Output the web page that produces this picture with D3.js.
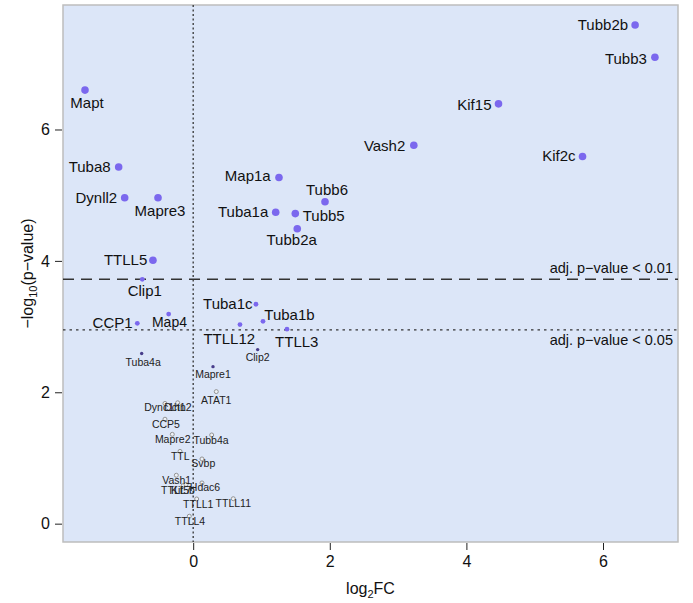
<!DOCTYPE html>
<html>
<head>
<meta charset="utf-8">
<script src="https://cdn.jsdelivr.net/npm/d3@7"></script>
<style>
  html, body { margin: 0; padding: 0; background: #ffffff; }
  svg { display: block; }
  text { font-family: "Liberation Sans", Arial, Helvetica, sans-serif; }
</style>
</head>
<body>
<div id="chart"></div>
<script>
// ---------------- data ----------------
const genes = [
  "Tubb2b","Tubb3","Kif15","Vash2","Kif2c","Mapt","Tuba8","Dynll2","Mapre3","Map1a",
  "Tubb6","Tuba1a","Tubb5","Tubb2a","TTLL5",
  "Clip1","Tuba1c","Map4","CCP1","Tuba1b","TTLL12","TTLL3",
  "Tuba4a","Clip2","Mapre1",
  "ATAT1","Dync1h1","Dctn2","CCP5","Mapre2","Tubb4a","TTL","Svbp","Vash1","Hdac6",
  "TTLL7","Kif5b","TTLL1","TTLL11","TTLL4"
];
const log2FC = [
  6.47, 6.76, 4.47, 3.23, 5.70, -1.584, -1.091, -1.003, -0.515, 1.256,
  1.93, 1.208, 1.495, 1.524, -0.589,
  -0.745, 0.919, -0.359, -0.818, 1.022, 0.685, 1.373,
  -0.754, 0.944, 0.290,
  0.338, -0.413, -0.227, -0.413, -0.306, 0.271, -0.193, 0.129, -0.247, 0.129,
  -0.145, -0.105, 0.051, 0.587, -0.057
];
const negLog10P = [
  7.59, 7.10, 6.39, 5.76, 5.59, 6.60, 5.43, 4.96, 4.96, 5.27,
  4.90, 4.74, 4.72, 4.49, 4.01,
  3.72, 3.34, 3.19, 3.05, 3.08, 3.03, 2.96,
  2.59, 2.65, 2.39,
  2.01, 1.83, 1.84, 1.59, 1.36, 1.35, 1.10, 0.985, 0.737, 0.62,
  0.58, 0.597, 0.376, 0.38, 0.113
];
// significance class of each gene
const sigClass = [
  "adj01","adj01","adj01","adj01","adj01","adj01","adj01","adj01","adj01","adj01",
  "adj01","adj01","adj01","adj01","adj01",
  "adj05","adj05","adj05","adj05","adj05","adj05","adj05",
  "p","p","p",
  "ns","ns","ns","ns","ns","ns","ns","ns","ns","ns",
  "ns","ns","ns","ns","ns"
];
const xTicks = [0, 2, 4, 6];
const yTicks = [0, 2, 4, 6];
const thresholdValues = [3.72, 2.95];
const thresholdLabels = ["adj. p\u2212value < 0.01", "adj. p\u2212value < 0.05"];

// ---------------- layout / style ----------------
const W = 693, H = 603;
const panel = { left: 63, right: 678, top: 5, bottom: 542 };
const xDomain = [-1.906, 7.098];
const yDomain = [-0.279, 7.895];

const classStyle = {
  adj01: { r: 3.8, fill: "#7b68ee", stroke: "none", font: 15 },
  adj05: { r: 2.4, fill: "#7b68ee", stroke: "none", font: 15 },
  p:     { r: 1.7, fill: "#483d8b", stroke: "none", font: 10.5 },
  ns:    { r: 2.0, fill: "#eef1f6", stroke: "#8a8a8a", font: 10.5 }
};
// label placement: [anchor, dx, dy(cap-centre offset from point)]
const labelPlace = {
  Tubb2b: ["end", -7, 0], Tubb3: ["end", -8, 1.5], Kif15: ["end", -7, 0.3],
  Vash2: ["end", -8.5, 0], Kif2c: ["end", -7, -1], Mapt: ["middle", 2, 12.7],
  Tuba8: ["end", -8, 0], Dynll2: ["end", -7.5, 0], Mapre3: ["middle", 2, 12.3],
  Map1a: ["end", -8.3, -1.5], Tubb6: ["middle", 2, -12], Tuba1a: ["end", -7.4, -0.8],
  Tubb5: ["start", 7.4, 2.3], Tubb2a: ["middle", -5.6, 11.3], TTLL5: ["end", -5.7, -0.6],
  Clip1: ["middle", 2.5, 11.4], Tuba1c: ["end", -3.4, -0.7], Map4: ["middle", 0.8, 7.4],
  CCP1: ["end", -4.7, -1], Tuba1b: ["start", 1.3, -6.3], TTLL12: ["middle", -10.7, 14],
  TTLL3: ["middle", 9.8, 12.3],
  Tuba4a: ["middle", 1.5, 8.4], Clip2: ["middle", 0, 8], Mapre1: ["middle", 0, 7.6],
  ATAT1: ["middle", 0, 8.3], Dync1h1: ["middle", 0, 4], Dctn2: ["middle", 0.3, 4.6],
  CCP5: ["middle", 1, 4.7], Mapre2: ["middle", 0.4, 5], Tubb4a: ["middle", -0.7, 5.3],
  TTL: ["middle", 0.3, 5.3], Svbp: ["middle", 1.3, 4.3], Vash1: ["middle", 0.4, 4.7],
  Hdac6: ["middle", 3, 4.3], TTLL7: ["middle", -7, 5], Kif5b: ["middle", -3, 6],
  TTLL1: ["middle", 1.6, 5], TTLL11: ["middle", 0, 4.6], TTLL4: ["middle", 0.7, 4.7]
};
const labelFontOverride = { Map4: 14 };

const points = genes.map((g, i) => ({ gene: g, fc: log2FC[i], p: negLog10P[i], cls: sigClass[i] }));

const svg = d3.select("#chart").append("svg").attr("width", W).attr("height", H);

const x = d3.scaleLinear().domain(xDomain).range([panel.left, panel.right]);
const y = d3.scaleLinear().domain(yDomain).range([panel.bottom, panel.top]);

// panel background
svg.append("rect")
  .attr("x", panel.left).attr("y", panel.top)
  .attr("width", panel.right - panel.left).attr("height", panel.bottom - panel.top)
  .attr("fill", "#dce6f8").attr("stroke", "#bdbdbd").attr("stroke-width", 1.5);

// axes
const xAxis = d3.axisBottom(x).tickValues(xTicks).tickSize(7).tickPadding(6).tickFormat(d3.format("d"));
const gx = svg.append("g").attr("transform", `translate(0,${panel.bottom + 1})`).call(xAxis);
gx.select(".domain").remove();
gx.selectAll("line").attr("stroke", "#222").attr("stroke-width", 1);
gx.selectAll("text").attr("font-size", 16).attr("fill", "#111")
  .attr("font-family", "Liberation Sans, Arial, sans-serif");

const yAxis = d3.axisLeft(y).tickValues(yTicks).tickSize(7).tickPadding(5).tickFormat(d3.format("d"));
const gy = svg.append("g").attr("transform", `translate(${panel.left - 1},0)`).call(yAxis);
gy.select(".domain").remove();
gy.selectAll("line").attr("stroke", "#222").attr("stroke-width", 1);
gy.selectAll("text").attr("font-size", 16).attr("fill", "#111")
  .attr("font-family", "Liberation Sans, Arial, sans-serif");

// axis titles
const xt = svg.append("text")
  .attr("x", (panel.left + panel.right) / 2).attr("y", 594)
  .attr("text-anchor", "middle").attr("font-size", 16).attr("fill", "#111");
xt.append("tspan").text("log");
xt.append("tspan").attr("font-size", 11).attr("dy", 4).text("2");
xt.append("tspan").attr("dy", -4).text("FC");

const yt = svg.append("text")
  .attr("transform", `translate(33,${(panel.top + panel.bottom) / 2}) rotate(-90)`)
  .attr("text-anchor", "middle").attr("font-size", 16).attr("fill", "#111");
yt.append("tspan").text("\u2212log");
yt.append("tspan").attr("font-size", 11).attr("dy", 4).text("10");
yt.append("tspan").attr("dy", -4).text("(p\u2212value)");

// reference lines
svg.append("line")
  .attr("x1", x(0)).attr("x2", x(0)).attr("y1", panel.top).attr("y2", panel.bottom)
  .attr("stroke", "#333").attr("stroke-width", 1.3).attr("stroke-dasharray", "2,2.5");
svg.append("line")
  .attr("x1", panel.left).attr("x2", panel.right).attr("y1", y(thresholdValues[0])).attr("y2", y(thresholdValues[0]))
  .attr("stroke", "#333").attr("stroke-width", 1.5).attr("stroke-dasharray", "11,7");
svg.append("line")
  .attr("x1", panel.left).attr("x2", panel.right).attr("y1", y(thresholdValues[1])).attr("y2", y(thresholdValues[1]))
  .attr("stroke", "#333").attr("stroke-width", 1.3).attr("stroke-dasharray", "2.5,4");

svg.append("text").attr("x", panel.right - 5).attr("y", y(thresholdValues[0]) - 6)
  .attr("text-anchor", "end").attr("font-size", 14.5).attr("fill", "#111").text(thresholdLabels[0]);
svg.append("text").attr("x", panel.right - 5).attr("y", y(thresholdValues[1]) + 15)
  .attr("text-anchor", "end").attr("font-size", 14.5).attr("fill", "#111").text(thresholdLabels[1]);

// points (hollow first)
const order = { ns: 0, p: 1, adj05: 2, adj01: 3 };
const sorted = points.slice().sort((a, b) => order[a.cls] - order[b.cls]);

svg.append("g").selectAll("circle").data(sorted).join("circle")
  .attr("cx", d => x(d.fc)).attr("cy", d => y(d.p))
  .attr("r", d => classStyle[d.cls].r)
  .attr("fill", d => classStyle[d.cls].fill)
  .attr("stroke", d => classStyle[d.cls].stroke)
  .attr("stroke-width", d => d.cls === "ns" ? 0.9 : 0);

// labels
svg.append("g").selectAll("text").data(points).join("text")
  .attr("x", d => x(d.fc) + labelPlace[d.gene][1])
  .attr("y", d => {
    const fs = labelFontOverride[d.gene] || classStyle[d.cls].font;
    return y(d.p) + labelPlace[d.gene][2] + 0.36 * fs;
  })
  .attr("text-anchor", d => labelPlace[d.gene][0])
  .attr("font-size", d => labelFontOverride[d.gene] || classStyle[d.cls].font)
  .attr("fill", d => (d.cls === "ns" || d.cls === "p") ? "#222" : "#111")
  .text(d => d.gene);
</script>
</body>
</html>
